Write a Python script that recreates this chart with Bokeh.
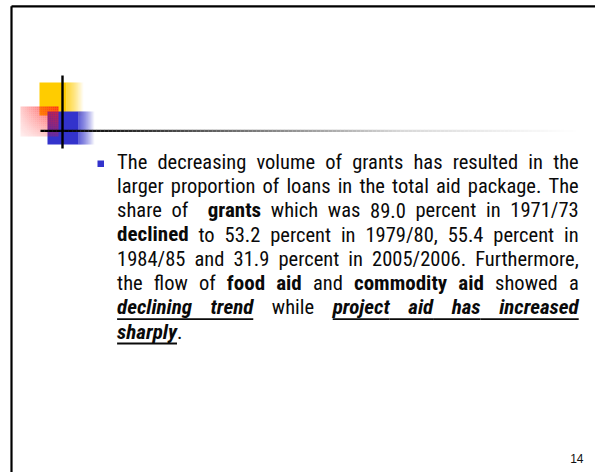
from bokeh.plotting import figure
from bokeh.models import Range1d, ColumnDataSource, CustomJSTransform
from bokeh.transform import transform
from bokeh.core.properties import value
from bokeh.embed import file_html
from bokeh.resources import INLINE

# ---- slide content (runs of (text, style)); n = normal, b = bold, biu = bold italic underlined
LINE_1 = [("The decreasing volume of grants has resulted in the", "n")]
LINE_2 = [("larger proportion of loans in the total aid package. The", "n")]
LINE_3 = [("share of  ", "n"), ("grants", "b"), (" which was 89.0 percent in 1971/73", "n")]
LINE_4 = [("declined", "b"), (" to 53.2 percent in 1979/80, 55.4 percent in", "n")]
LINE_5 = [("1984/85 and 31.9 percent in 2005/2006. Furthermore,", "n")]
LINE_6 = [("the flow of ", "n"), ("food aid", "b"), (" and ", "n"), ("commodity aid", "b"), (" showed a", "n")]
LINE_7 = [("declining trend", "biu"), (" while ", "n"), ("project aid has increased", "biu")]
LINE_8 = [("sharply", "biu"), (".", "n")]
TEXT_LINES = [LINE_1, LINE_2, LINE_3, LINE_4, LINE_5, LINE_6, LINE_7, LINE_8]
JUSTIFIED = [1, 1, 1, 1, 1, 1, 1, 0]
PAGE_NUMBER = "14"

FONT = "Roboto Condensed"
SIZE = {"n": 20.5, "b": 21.0, "biu": 21.0}
BASE_SHIFT = 0.36          # text glyph anchor -> alphabetic baseline offset (em)
APPROX = 0.87              # fallback width factor vs Arial metrics

REG = dict(zip("abcdefghijklmnopqrstuvwxyz",
               [556, 556, 500, 556, 556, 278, 556, 556, 222, 222, 500, 222, 833,
                556, 556, 556, 556, 333, 500, 278, 556, 500, 722, 500, 500, 500]))
BOLD = dict(zip("abcdefghijklmnopqrstuvwxyz",
                [556, 611, 556, 611, 556, 333, 611, 611, 278, 278, 556, 278, 889,
                 611, 611, 611, 611, 389, 556, 333, 611, 556, 778, 556, 556, 500]))
for d in (REG, BOLD):
    d.update({c: 556 for c in "0123456789"})
    d.update({".": 278, ",": 278, "/": 278, " ": 278, "T": 611, "F": 611})


def cw(ch, style):
    table = REG if style == "n" else BOLD
    return table.get(ch, 556) * APPROX * SIZE[style] / 1000.0


W, H = 595, 472
p = figure(width=W, height=H, x_range=Range1d(0, W), y_range=Range1d(H, 0),
           output_backend="svg", toolbar_location=None, min_border=0,
           x_axis_location=None, y_axis_location=None)
p.grid.visible = False
p.outline_line_color = None
p.background_fill_color = "white"
p.border_fill_color = "white"

# ---- slide frame
p.segment(x0=[11, 11], y0=[5.8, 5.8], x1=[11, 600], y1=[480, 5.8], line_color="black", line_width=2.2)

# ---- decoration: yellow, blue (fading right), red (fading), black cross
def fade_block(x0, x1, fade_to, y0, y1, color):
    p.quad(left=[x0], right=[x1], top=[y0], bottom=[y1], fill_color=color, line_color=None)
    n = int(fade_to - x1)
    L = [x1 + i for i in range(n)]
    p.quad(left=L, right=[v + 1.05 for v in L], top=[y0] * n, bottom=[y1] * n,
           fill_color=color, line_color=None,
           fill_alpha=[1 - (i + 0.5) / n for i in range(n)])

fade_block(39, 66, 83, 82, 115, "#FFCC00")
fade_block(47, 78, 94, 111, 144, "#3333CC")

rl, rt, rw, rh = 20, 106, 37, 30
cells = dict(left=[], right=[], top=[], bottom=[], a=[])
step = 2
for i in range(0, rw, step):
    for j in range(0, rh, step):
        tx = (i + step / 2) / rw
        ty = (j + step / 2) / rh
        cells["left"].append(rl + i)
        cells["right"].append(rl + i + step)
        cells["top"].append(rt + j)
        cells["bottom"].append(rt + j + step)
        cells["a"].append(0.9 * (0.25 + 0.75 * tx) * (1 - 0.7 * ty))
p.quad(left="left", right="right", top="top", bottom="bottom", fill_alpha="a",
       fill_color="#FF1A1A", line_color=None, source=ColumnDataSource(cells))

p.segment(x0=[62], y0=[75], x1=[62], y1=[148], line_color="black", line_width=2.4)
seg_x = list(range(40, 580, 4))
cols = []
for x in seg_x:
    if x < 60:
        v = 0.0
    elif x < 400:
        v = 0.85 * (x - 60) / 340
    else:
        v = 0.85 + 0.15 * (x - 400) / 175
    g = int(round(min(v, 1.0) * 255))
    cols.append("#%02x%02x%02x" % (g, g, g))
p.segment(x0=seg_x, y0=[130.3] * len(seg_x), x1=[x + 4.2 for x in seg_x], y1=[130.3] * len(seg_x),
          line_color=cols, line_width=2.3)

# ---- bullet
p.quad(left=[97], right=[103.5], top=[160], bottom=[166.5], fill_color="#3333CC", line_color=None)

# ---- text pieces (laid out justified; refined in the browser with real font metrics)
LEFT, RIGHT = 116.6, 578.2
BASE0, LEAD = 168.5, 24.3
CSS = {"n": "normal", "b": "bold", "biu": "bold italic"}
pc = dict(text=[], css=[], fs=[], line=[], gaps=[], just=[], xfb=[], y=[])
uc = dict(pid=[], prev=[], x0fb=[], x1fb=[], y=[])
for li, runs in enumerate(TEXT_LINES):
    chars = [(c, s) for txt, s in runs for c in txt]
    segs = []          # [text, style, gaps_before]
    gaps = 0
    for c, s in chars:
        if c == " ":
            gaps += 1
            continue
        if segs and gaps == 0 and segs[-1][1] == s:
            segs[-1][0] += c
        else:
            segs.append([c, s, gaps])
        gaps = 0
    ink = sum(sum(cw(c, s) for c in t) for t, s, g in segs)
    nsp = sum(g for t, s, g in segs)
    gw = (RIGHT - LEFT - ink) / nsp if (JUSTIFIED[li] and nsp) else cw(" ", "n")
    baseline = BASE0 + li * LEAD
    x = LEFT
    prev_style = None
    prev_end = None
    for t, s, g in segs:
        x += g * gw
        w = sum(cw(c, s) for c in t)
        pid = len(pc["text"])
        pc["text"].append(t); pc["css"].append(CSS[s]); pc["fs"].append(f"{SIZE[s]}px")
        pc["line"].append(li)
        pc["gaps"].append(g); pc["just"].append(JUSTIFIED[li]); pc["xfb"].append(x)
        pc["y"].append(baseline - BASE_SHIFT * SIZE[s])
        if s == "biu":
            ext = 1 if (prev_style == "biu" and g > 0) else 0
            uc["pid"].append(pid); uc["prev"].append(ext)
            uc["x0fb"].append(prev_end if ext else x); uc["x1fb"].append(x + w)
            uc["y"].append(baseline + 4.4)
        prev_style, prev_end = s, x + w
        x += w

psrc = ColumnDataSource(pc)
usrc = ColumnDataSource(uc)

LAYOUT_JS = """
function layout(d) {
  const n = d.text.length;
  const ctx = document.createElement("canvas").getContext("2d");
  const xs0 = new Array(n), ws = new Array(n);
  const lines = new Map();
  for (let i = 0; i < n; i++) {
    ctx.font = d.css[i] + " " + d.fs[i] + " '" + font + "'";
    ws[i] = ctx.measureText(d.text[i]).width;
    const li = d.line[i];
    if (!lines.has(li)) lines.set(li, []);
    lines.get(li).push(i);
  }
  ctx.font = "normal " + nsize + "px '" + font + "'";
  const sw = ctx.measureText(" ").width;
  for (const idx of lines.values()) {
    let ink = 0, sp = 0;
    for (const i of idx) { ink += ws[i]; sp += d.gaps[i]; }
    const g = (d.just[idx[0]] && sp > 0) ? (R - L - ink) / sp : sw;
    let x = L;
    for (const i of idx) { x += d.gaps[i] * g; xs0[i] = x; x += ws[i]; }
  }
  return [xs0, ws];
}
"""
common = dict(src=psrc, usrc=usrc, nsize=SIZE["n"], font=FONT, L=LEFT, R=RIGHT)
tx_text = CustomJSTransform(args=common, v_func=LAYOUT_JS + """
try { const r = layout(src.data); return r[0]; } catch (e) { return xs; }
""")
tx_u0 = CustomJSTransform(args=common, v_func=LAYOUT_JS + """
try {
  const r = layout(src.data); const u = usrc.data; const out = [];
  for (let k = 0; k < u.pid.length; k++) {
    const q = u.pid[k];
    out.push(u.prev[k] ? r[0][q - 1] + r[1][q - 1] : r[0][q]);
  }
  return out;
} catch (e) { return xs; }
""")
tx_u1 = CustomJSTransform(args=common, v_func=LAYOUT_JS + """
try {
  const r = layout(src.data); const u = usrc.data; const out = [];
  for (let k = 0; k < u.pid.length; k++) { const q = u.pid[k]; out.push(r[0][q] + r[1][q]); }
  return out;
} catch (e) { return xs; }
""")

p.text(x=transform("xfb", tx_text), y="y", text="text", source=psrc, text_font=value(FONT),
       text_font_size="fs", text_font_style="css", text_color="#0a0a0a",
       text_baseline="alphabetic", text_align="left")
p.segment(x0=transform("x0fb", tx_u0), y0="y", x1=transform("x1fb", tx_u1), y1="y", source=usrc,
          line_color="#0a0a0a", line_width=1.8)

# ---- page number
p.text(x=[583], y=[462 - BASE_SHIFT * 12], text=[PAGE_NUMBER], text_font=value("Liberation Sans"),
       text_font_size="12px", text_color="#111111", text_baseline="alphabetic", text_align="right")

open("out.html", "w").write(file_html(p, INLINE))
